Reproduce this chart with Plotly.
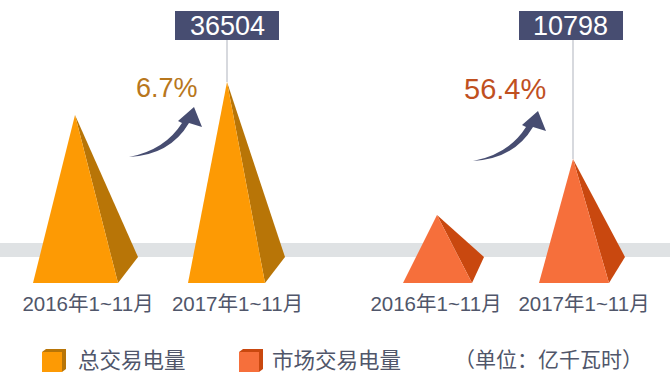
import plotly.graph_objects as go

# ---- data ----
categories = ["2016年1~11月", "2017年1~11月", "2016年1~11月", "2017年1~11月"]
series_names = ["总交易电量", "总交易电量", "市场交易电量", "市场交易电量"]
drawn_heights = [168, 201, 68, 124]          # pyramid heights as drawn
value_labels = ["36504", "10798"]
growth_labels = ["6.7%", "56.4%"]
unit_label = "（单位：亿千瓦时）"
legend_names = ["总交易电量", "市场交易电量"]

# ---- geometry and style (plot pixels: x from left, y up from baseline) ----
W, H, BASE = 670, 389, 283
apex_x = [75, 227, 437, 573]
base_left = [33, 188, 403, 539]
base_right = [118, 265, 472, 609]
back_x = [138, 285, 484, 625]
back_y = 26
label_x = [88, 237.5, 436, 584]
front_col = {"总交易电量": "#fd9a04", "市场交易电量": "#f66f3b"}
side_col = {"总交易电量": "#b87507", "市场交易电量": "#c9480f"}
NAVY, TEXT, GREY = "#474d71", "#50566a", "#dfe2e4"
FONT = "Liberation Sans, Noto Sans CJK SC, sans-serif"

def py(v):  # image y -> data y
    return BASE - v

fig = go.Figure()
for i, h in enumerate(drawn_heights):
    s = series_names[i]
    fig.add_trace(go.Scatter(x=[apex_x[i], base_right[i], back_x[i], apex_x[i]],
                             y=[h, 0, back_y, h], mode="lines", fill="toself",
                             fillcolor=side_col[s], line=dict(width=0), hoverinfo="skip"))
    fig.add_trace(go.Scatter(x=[apex_x[i], base_left[i], base_right[i], apex_x[i]],
                             y=[h, 0, 0, h], mode="lines", fill="toself",
                             fillcolor=front_col[s], line=dict(width=0), name=s,
                             hovertemplate=categories[i] + "<extra>" + s + "</extra>"))

shapes = [dict(type="rect", xref="x", yref="y", x0=0, x1=W, y0=py(257), y1=py(243),
               fillcolor=GREY, line_width=0, layer="below")]

# value boxes and leader lines
for lab, idx, bx0, bx1 in zip(value_labels, [1, 3], [175, 519], [279, 623]):
    shapes.append(dict(type="line", xref="x", yref="y", x0=apex_x[idx], x1=apex_x[idx],
                       y0=py(40), y1=drawn_heights[idx], line=dict(color="#bcc0c8", width=1.2)))
    shapes.append(dict(type="rect", xref="x", yref="y", x0=bx0, x1=bx1, y0=py(40), y1=py(11),
                       fillcolor=NAVY, line_width=0))

# curved arrows
def arrow(dx, dy):
    p = lambda x, y: f"{x + dx},{py(y + dy)}"
    return (f"M {p(129,157)} Q {p(165,150)} {p(182,123)} L {p(178,121)} L {p(194,107)} "
            f"L {p(202,127)} L {p(189,123)} Q {p(170,155)} {p(129,157)} Z")
for dx, dy in [(0, 0), (344, 4)]:
    shapes.append(dict(type="path", xref="x", yref="y", path=arrow(dx, dy),
                       fillcolor=NAVY, line_width=0))

# legend icons (paper coordinates, below the plot area)
def pap(v):
    return 1 - v / BASE
for name, x0 in zip(legend_names, [42, 239]):
    shapes.append(dict(type="path", xref="x", yref="paper",
                       path=f"M {x0},{pap(352)} L {x0+4},{pap(349)} L {x0+24},{pap(349)} L {x0+24},{pap(369)} "
                            f"L {x0+20},{pap(372)} L {x0},{pap(372)} Z",
                       fillcolor=side_col[name], line_width=0))
    shapes.append(dict(type="rect", xref="x", yref="paper", x0=x0, x1=x0 + 20, y0=pap(372), y1=pap(352),
                       fillcolor=front_col[name], line_width=0))

def text(x, y, s, size, color, anchor="center", yref="y"):
    return dict(x=x, y=y, xref="x", yref=yref, text=s, showarrow=False, xanchor=anchor, yanchor="middle",
                font=dict(size=size, color=color, family=FONT))

annotations = [
    text(227, py(26), value_labels[0], 27, "white"),
    text(570, py(26), value_labels[1], 27, "white"),
    text(167, py(88), growth_labels[0], 27, "#b8771c"),
    text(505, py(89), growth_labels[1], 29, "#c0501f"),
    text(76, pap(361), legend_names[0], 21.5, TEXT, "left", "paper"),
    text(270, pap(361), legend_names[1], 21.5, TEXT, "left", "paper"),
    text(548, pap(359), unit_label, 21, TEXT, "center", "paper"),
]

fig.update_layout(
    width=W, height=H, margin=dict(l=0, r=0, t=0, b=H - BASE), autosize=False,
    showlegend=False, paper_bgcolor="white", plot_bgcolor="white",
    shapes=shapes, annotations=annotations,
    xaxis=dict(range=[0, W], tickmode="array", tickvals=label_x, ticktext=categories,
               ticks="", showgrid=False, zeroline=False, showline=False,
               tickfont=dict(size=20.5, color=TEXT, family=FONT), ticklabelstandoff=6, tickangle=0),
    yaxis=dict(range=[0, BASE], visible=False),
)
fig.write_html("out.html", config={"displayModeBar": False},
               post_script="document.body.style.margin='0';document.body.style.overflow='hidden';")
